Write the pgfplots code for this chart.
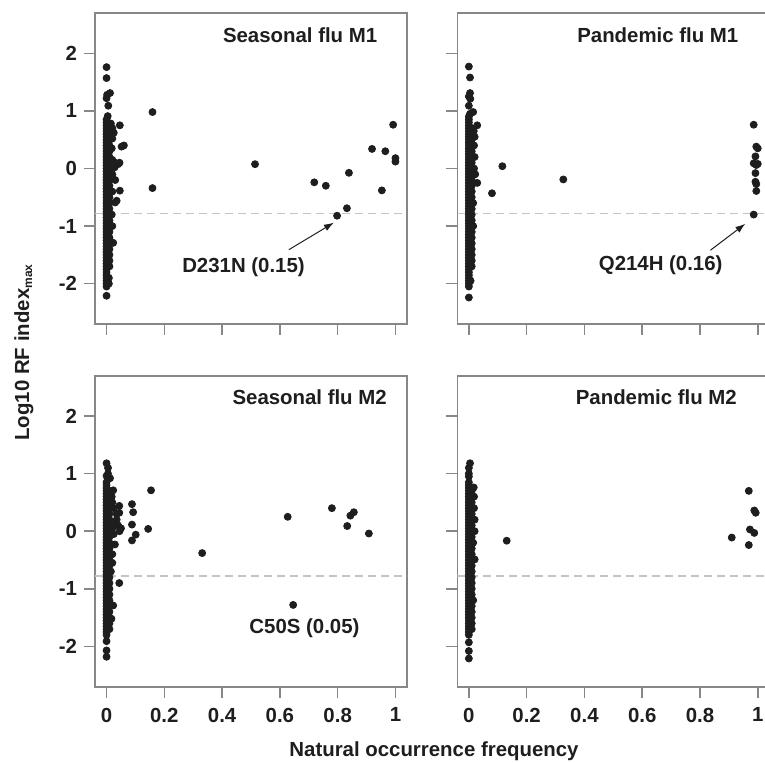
\documentclass[border=0pt]{standalone}
\usepackage{fontspec}
\setmainfont{Liberation Sans}
\usepackage{pgfplots}
\pgfplotsset{compat=1.18}
\usepackage{pgfplotstable}
\usetikzlibrary{arrows.meta}

\definecolor{ink}{HTML}{1E1E1E}
\definecolor{framegray}{HTML}{878787}
\definecolor{dashgray}{HTML}{C4C4C4}
\newcommand\lab{\fontsize{10.2}{12}\selectfont\bfseries}

% dense column of points near frequency 0, shared by the panels
\pgfplotstableread[row sep=\\]{
x y\\
0 -1.75\\ 0 -1.70\\ 0 -1.65\\ 0 -1.60\\ 0 -1.55\\ 0 -1.50\\ 0 -1.45\\ 0 -1.40\\ 0 -1.35\\ 0 -1.30\\
0 -1.25\\ 0 -1.20\\ 0 -1.15\\ 0 -1.10\\ 0 -1.05\\ 0 -1.00\\ 0 -0.95\\ 0 -0.90\\ 0 -0.85\\ 0 -0.80\\
0 -0.75\\ 0 -0.70\\ 0 -0.65\\ 0 -0.60\\ 0 -0.55\\ 0 -0.50\\ 0 -0.45\\ 0 -0.40\\ 0 -0.35\\ 0 -0.30\\
0 -0.25\\ 0 -0.20\\ 0 -0.15\\ 0 -0.10\\ 0 -0.05\\ 0 0.00\\ 0 0.05\\ 0 0.10\\ 0 0.15\\ 0 0.20\\
0 0.25\\ 0 0.30\\ 0 0.35\\ 0 0.40\\ 0 0.45\\ 0 0.50\\ 0 0.55\\ 0 0.60\\ 0 0.65\\ 0 0.70\\
0 0.75\\ 0 0.80\\
0.01 -1.70\\ 0.01 -1.60\\ 0.01 -1.50\\ 0.01 -1.40\\ 0.01 -1.30\\ 0.01 -1.20\\ 0.01 -1.10\\
0.01 -1.00\\ 0.01 -0.90\\ 0.01 -0.80\\ 0.01 -0.70\\ 0.01 -0.60\\ 0.01 -0.50\\ 0.01 -0.40\\
0.01 -0.30\\ 0.01 -0.20\\ 0.01 -0.10\\ 0.01 0.00\\ 0.01 0.10\\ 0.01 0.20\\ 0.01 0.30\\
0.01 0.40\\ 0.01 0.50\\ 0.01 0.60\\ 0.01 0.70\\
}\core

\pgfplotsset{
  panel/.style={
    scale only axis, width=156pt, height=155.5pt,
    anchor=north west,
    xmin=-0.04, xmax=1.04, ymin=-2.7, ymax=2.7,
    axis line style={draw=framegray, line width=0.8pt},
    xtick={0,0.2,0.4,0.6,0.8,1}, ytick={-2,-1,0,1,2},
    xtick pos=left, ytick pos=left,
    tick align=outside, major tick length=5.5pt,
    tick style={draw=framegray, line width=0.8pt},
    ticklabel style={font=\lab, text=ink},
    xticklabel style={yshift=-1.5pt},
  },
  pts/.style={only marks, mark=*, mark size=1.75pt, draw=ink, fill=ink, mark options={draw=ink, fill=ink}},
  refline/.style={no markers, draw=dashgray, line width=0.6pt, dash pattern=on 4pt off 2.5pt, forget plot},
}

\begin{document}
\begin{tikzpicture}
\useasboundingbox (0,0) rectangle (382.5pt,-381pt);
\clip (0,0) rectangle (382.5pt,-381pt);

% Seasonal flu M1
\begin{axis}[panel, at={(47.5pt,-6.5pt)}, xticklabels={}, yticklabels={-2,-1,0,1,2}]
\addplot[refline] coordinates {(-0.04,-0.778) (1.04,-0.778)};
\addplot[pts] table {\core};
\addplot[pts] coordinates {
(0,-1.80)(0,-1.85)(0,-1.90)(0,-1.95)(0,-2.00)(0,-2.05)(0.008,-1.90)(0.008,-2.00)(0,-2.21)
(0,0.85)(0.004,0.91)(0.006,1.09)(0,1.22)(0.002,1.28)(0.012,1.31)(0,1.57)(0,1.76)
(0.015,0.78)(0.02,0.70)(0.025,0.62)(0.02,0.52)(0.018,0.35)(0.02,0.15)(0.03,0.10)(0.04,0.075)
(0.045,0.10)(0.028,0.02)(0.02,-0.10)(0.03,-0.20)(0.02,-0.40)(0.03,-0.59)(0.035,-0.56)
(0.023,-1.29)(0.015,-1.30)(0.018,-0.80)(0.02,-1.00)
(0.046,0.75)(0.052,0.38)(0.06,0.40)(0.046,-0.385)(0.159,0.98)(0.159,-0.34)
(0.514,0.075)(0.719,-0.24)(0.759,-0.30)(0.839,-0.075)(0.832,-0.69)(0.798,-0.82)
(0.919,0.34)(0.965,0.30)(0.992,0.76)(0.953,-0.38)(1.0,0.18)(1.0,0.12)
};
\draw[ink, line width=0.5pt, -{Latex[length=5pt,width=3.5pt]}] (axis cs:0.631,-1.41) -- (axis cs:0.787,-0.94);
\node[font=\lab, text=ink] at (axis cs:0.474,-1.71) {D231N (0.15)};
\node[font=\lab, text=ink] at (axis cs:0.67,2.31) {Seasonal flu M1};
\end{axis}

% Pandemic flu M1
\begin{axis}[panel, at={(228.65pt,-6.5pt)}, xticklabels={}, yticklabels={}]
\addplot[refline] coordinates {(-0.04,-0.778) (1.04,-0.778)};
\addplot[pts] table {\core};
\addplot[pts] coordinates {
(0,-1.80)(0,-1.85)(0,-1.90)(0,-1.95)(0,-2.00)(0,-2.05)(0.006,-1.95)(0,-2.24)
(0,0.85)(0,0.90)(0.004,0.95)(0.015,0.98)(0,1.09)(0.005,1.21)(0,1.25)(0.004,1.31)(0.004,1.58)(0,1.77)
(0.029,0.75)(0.017,0.65)(0.02,0.55)(0.018,0.40)(0.02,0.20)(0.018,0.00)(0.022,-0.10)(0.029,-0.25)
(0.015,-0.60)(0.015,-1.00)
(0.08,-0.43)(0.116,0.04)(0.327,-0.19)
(0.986,0.76)(0.995,0.38)(1.0,0.35)(0.992,0.21)(0.986,0.09)(0.995,0.06)(1.0,0.08)
(0.992,-0.08)(0.992,-0.23)(0.995,-0.27)(0.995,-0.39)(0.986,-0.80)
};
\draw[ink, line width=0.5pt, -{Latex[length=5pt,width=3.5pt]}] (axis cs:0.836,-1.42) -- (axis cs:0.957,-0.96);
\node[font=\lab, text=ink] at (axis cs:0.664,-1.68) {Q214H (0.16)};
\node[font=\lab, text=ink] at (axis cs:0.654,2.32) {Pandemic flu M1};
\end{axis}

% Seasonal flu M2
\begin{axis}[panel, at={(47.5pt,-187.85pt)}, xticklabels={0,0.2,0.4,0.6,0.8,1}, yticklabels={-2,-1,0,1,2}]
\addplot[refline] coordinates {(-0.04,-0.778) (1.04,-0.778)};
\addplot[pts] table {\core};
\addplot[pts] coordinates {
(0,-1.80)(0,-1.91)(0,-2.07)(0,-2.18)
(0,0.85)(0.005,0.93)(0.012,0.92)(0,0.96)(0.005,1.00)(0.005,1.10)(0,1.18)
(0.023,0.71)(0.044,0.44)(0.044,0.32)(0.088,0.47)(0.092,0.33)(0.088,0.115)(0.101,-0.06)
(0.088,-0.16)(0.144,0.04)(0.154,0.71)(0.029,-0.23)(0.044,-0.90)(0.023,-1.29)(0.017,-1.52)
(0.035,0.20)(0.04,0.10)(0.045,0.00)(0.05,0.05)(0.03,0.15)(0.035,0.30)(0.02,0.50)(0.025,0.40)
(0.02,-0.40)(0.015,-0.70)(0.02,-0.55)(0.018,0.60)(0.02,0.05)(0.025,-0.05)
(0.331,-0.38)(0.627,0.25)(0.646,-1.28)(0.78,0.40)(0.833,0.09)(0.844,0.27)(0.856,0.33)(0.908,-0.04)
};
\node[font=\lab, text=ink] at (axis cs:0.685,-1.69) {C50S (0.05)};
\node[font=\lab, text=ink] at (axis cs:0.703,2.33) {Seasonal flu M2};
\end{axis}

% Pandemic flu M2
\begin{axis}[panel, at={(228.65pt,-187.85pt)}, xticklabels={0,0.2,0.4,0.6,0.8,1}, yticklabels={}]
\addplot[refline] coordinates {(-0.04,-0.778) (1.04,-0.778)};
\addplot[pts] table {\core};
\addplot[pts] coordinates {
(0.004,1.18)(0,1.10)(0,1.00)(0,0.95)(0,0.85)(0.017,0.76)(0.02,-0.49)
(0,-1.80)(0,-1.93)(0,-2.08)(0,-2.21)
(0.018,0.60)(0.018,0.40)(0.02,0.20)(0.02,0.00)(0.015,-0.20)(0.015,-1.20)
(0.131,-0.165)
(0.969,0.70)(0.988,0.36)(0.993,0.32)(0.973,0.03)(0.988,-0.03)(0.91,-0.11)(0.969,-0.24)
};
\node[font=\lab, text=ink] at (axis cs:0.649,2.32) {Pandemic flu M2};
\end{axis}

\node[font=\lab, text=ink] at (217pt,-375.5pt) {Natural occurrence frequency};
\node[font=\lab, text=ink, rotate=90] at (12pt,-176pt) {Log10 RF index\textsubscript{\fontsize{6}{7}\selectfont max}};
\end{tikzpicture}
\end{document}
